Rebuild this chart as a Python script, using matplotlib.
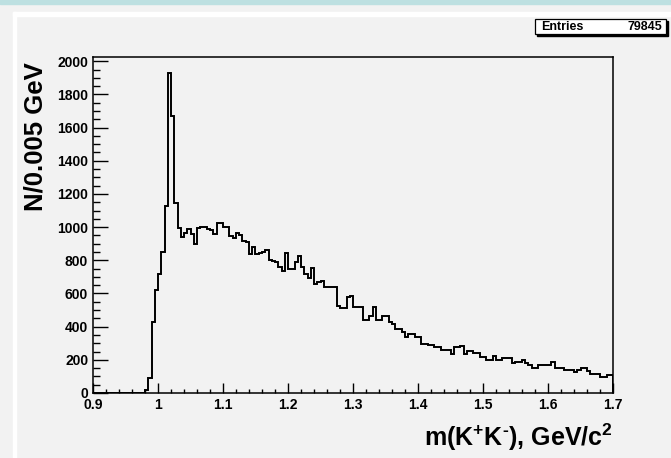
import numpy as np
import matplotlib
matplotlib.use("Agg")
import matplotlib.pyplot as plt
from matplotlib.ticker import MultipleLocator
from matplotlib.patches import Rectangle

# m(K+K-) invariant mass, 0.005 GeV bins between 0.9 and 1.7
x_lo, x_hi, n_bins = 0.9, 1.7, 160
counts = [
    0, 0, 0, 0, 0, 0, 0, 0, 0, 0,
    0, 0, 0, 0, 0, 0, 20, 89, 431, 622,
    718, 852, 1130, 1929, 1672, 1143, 995, 939, 963, 989,
    959, 899, 995, 1000, 1000, 990, 984, 960, 1022, 1022,
    1003, 999, 949, 935, 963, 955, 919, 909, 839, 879,
    839, 845, 852, 863, 804, 798, 790, 760, 734, 842,
    748, 748, 788, 828, 760, 718, 695, 754, 660, 672,
    678, 637, 637, 637, 637, 527, 513, 513, 577, 587,
    517, 517, 517, 441, 441, 467, 520, 441, 441, 467,
    467, 425, 415, 387, 387, 365, 336, 357, 357, 336,
    336, 296, 296, 290, 290, 276, 276, 262, 262, 262,
    236, 276, 276, 285, 236, 256, 256, 243, 243, 220,
    220, 200, 200, 225, 200, 200, 212, 212, 212, 180,
    185, 185, 197, 180, 168, 152, 152, 170, 170, 170,
    170, 186, 152, 152, 152, 140, 140, 140, 125, 140,
    150, 150, 130, 116, 116, 116, 95, 95, 111, 111,
]
entries = 79845
x_title = r"m(K$^{+}$K$^{\text{-}}$), GeV/c$^{2}$"
y_title = "N/0.005 GeV"

plt.rcParams["font.family"] = ["Liberation Sans", "DejaVu Sans"]
plt.rcParams["mathtext.fontset"] = "custom"
plt.rcParams["mathtext.rm"] = "Liberation Sans:bold"
plt.rcParams["mathtext.it"] = "Liberation Sans:bold"
plt.rcParams["mathtext.bf"] = "Liberation Sans:bold"

W, H = 671, 458
bg = "#f2f2f2"
fig = plt.figure(figsize=(W / 100, H / 100), dpi=100)
fig.patch.set_facecolor(bg)

# window decoration: teal strip on top, white inner border lines
fig.patches.append(Rectangle((0, 1 - 4 / H), 1, 4 / H, transform=fig.transFigure,
                             color="#bde0e1", zorder=0))
fig.patches.append(Rectangle((13 / W, 0), 3 / W, 1 - 12 / H, transform=fig.transFigure,
                             color="white", zorder=0))
fig.patches.append(Rectangle((13 / W, 1 - 16 / H), 1, 4 / H, transform=fig.transFigure,
                             color="white", zorder=0))

ax = fig.add_axes([93 / W, 1 - 393 / H, 520 / W, 336 / H])
ax.set_facecolor(bg)

edges = np.linspace(x_lo, x_hi, n_bins + 1)
ax.stairs(counts, edges, color="black", lw=1.4)

ax.set_xlim(x_lo, x_hi)
ax.set_ylim(0, 1.05 * max(counts))

ax.xaxis.set_major_locator(MultipleLocator(0.1))
ax.xaxis.set_minor_locator(MultipleLocator(0.02))
ax.yaxis.set_major_locator(MultipleLocator(200))
ax.yaxis.set_minor_locator(MultipleLocator(50))
ax.xaxis.set_major_formatter(plt.FuncFormatter(lambda v, p: f"{v:g}"))

ax.tick_params(axis="x", which="major", direction="in", length=7.2, width=1.0,
               pad=3.5, labelsize=10, top=False)
ax.tick_params(axis="x", which="minor", direction="in", length=3.2, width=1.0, top=False)
ax.tick_params(axis="y", which="major", direction="in", length=10.8, width=1.0,
               pad=3.5, labelsize=10, right=False)
ax.tick_params(axis="y", which="minor", direction="in", length=5.3, width=1.0, right=False)
for lbl in ax.get_xticklabels() + ax.get_yticklabels():
    lbl.set_fontweight("bold")
for sp in ax.spines.values():
    sp.set_linewidth(1.1)

fig.text(613 / W, 1 - 437 / H, x_title, ha="right", va="center",
         fontsize=18, fontweight="bold")
fig.text(36 / W, 1 - 62 / H, y_title, ha="center", va="top", rotation=90,
         fontsize=18.5, fontweight="bold")

# statistics box with drop shadow
box_x, box_y, box_w, box_h = 535 / W, 1 - 34 / H, 131 / W, 15 / H
fig.patches.append(Rectangle((box_x + 2 / W, box_y - 2 / H), box_w, box_h,
                             transform=fig.transFigure, color="black", zorder=3))
fig.patches.append(Rectangle((box_x, box_y), box_w, box_h, transform=fig.transFigure,
                             facecolor="white", edgecolor="black", lw=0.9, zorder=4))
fig.text(box_x + 6 / W, box_y + box_h / 2, "Entries", ha="left", va="center",
         fontsize=9, fontweight="bold", zorder=5)
fig.text(box_x + box_w - 4 / W, box_y + box_h / 2, f"{entries}", ha="right", va="center",
         fontsize=9, fontweight="bold", zorder=5)

fig.savefig("out.png", dpi=100, facecolor=fig.get_facecolor())
